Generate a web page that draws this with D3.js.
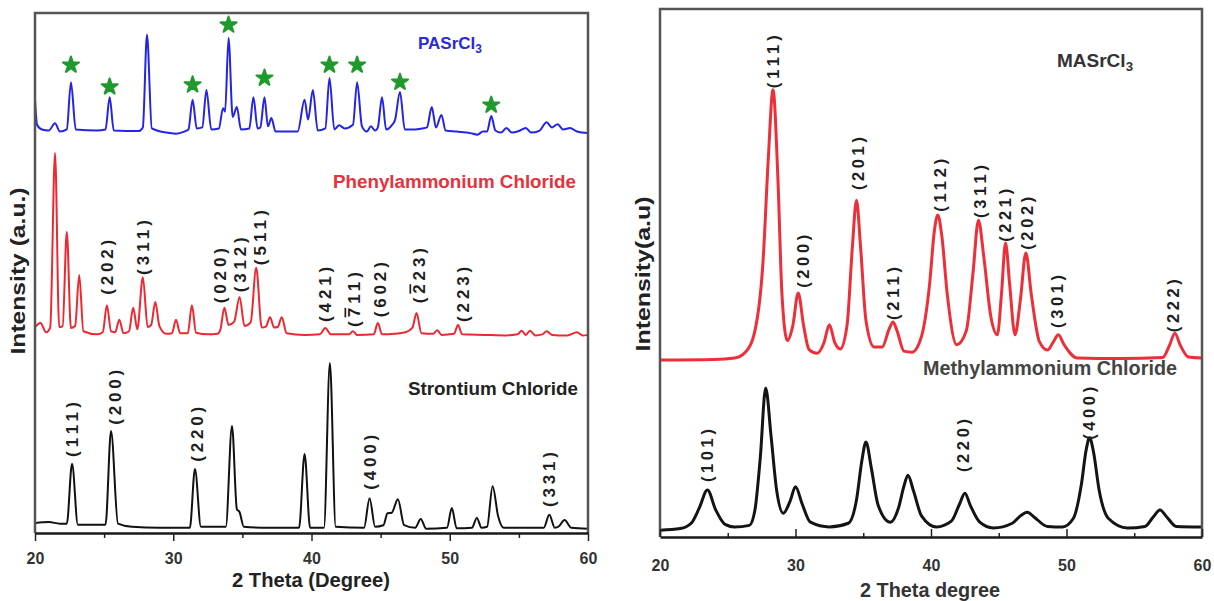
<!DOCTYPE html>
<html>
<head>
<meta charset="utf-8">
<script src="https://cdn.jsdelivr.net/npm/d3@7"></script>
<style>
    body { margin: 0; background: #fff; }
    text { font-family: "Liberation Sans", Arial, sans-serif; font-weight: bold; }
</style>
</head>
<body>
<svg id="chart" width="1214" height="601"></svg>
<script>
// x axis (2 theta, degrees)
var majorTicks = [20, 30, 40, 50, 60];
var minorTicks = [25, 35, 45, 55];

// ---- left panel: PASrCl3 / phenylammonium chloride / SrCl2, [2theta, intensity a.u.]
var pasrcl3 = [
    [20, 83.3], [20.15, 78.5], [20.5, 77.6], [21.0, 77.4], [21.45, 78.8], [21.8, 77.2], [22.3, 77.6],
    [22.6, 86.7], [22.95, 77.6], [24.5, 77.4], [25.1, 77.6], [25.4, 83.8], [25.7, 77.4], [27.5, 77.3],
    [27.8, 78], [28.1, 95.8], [28.45, 77.8], [29.5, 77.0], [30.2, 76.8], [30.8, 77.2], [31.1, 77.6],
    [31.4, 83.3], [31.7, 77.8], [32.1, 78], [32.4, 85.2], [32.75, 77.6], [33.3, 77.8], [33.6, 81.7],
    [33.75, 81], [34.0, 95.2], [34.3, 80], [34.6, 81.9], [34.9, 77.6], [35.5, 77.8], [35.8, 83.8],
    [36.1, 77.8], [36.3, 78], [36.6, 83.8], [36.85, 78.2], [37.1, 79.8], [37.4, 77.2], [39.0, 77.2],
    [39.5, 83.3], [39.75, 79.5], [40.1, 85.2], [40.45, 77.4], [41.0, 77.8], [41.3, 87.5], [41.65, 77.6],
    [42.0, 78.4], [42.4, 77.8], [43.0, 78.5], [43.3, 86.7], [43.65, 78.2], [44.0, 77.2], [44.3, 78.2],
    [44.6, 77.4], [44.8, 78], [45.1, 83.8], [45.4, 77.6], [45.8, 78.4], [46.05, 79.5], [46.4, 84.8],
    [46.75, 77.6], [47.5, 77.6], [48.0, 77.8], [48.35, 78], [48.7, 81.9], [49.0, 78], [49.4, 80.4],
    [49.7, 77.4], [50.5, 77.2], [51.5, 76.9], [52.0, 76.6], [52.4, 77.2], [52.7, 77.2], [53.0, 80.2],
    [53.3, 77.4], [53.7, 77.0], [54.1, 77.9], [54.5, 77.0], [55.0, 77.3], [55.5, 77.9], [55.9, 77.0],
    [56.5, 77.4], [57.0, 79.0], [57.4, 78.0], [57.8, 78.6], [58.2, 77.6], [58.7, 77.9], [59.2, 77.2], [60, 76.9]
];
var phenylammonium = [
    [20, 39.6], [20.4, 40.4], [20.8, 38.6], [21.1, 39.5], [21.45, 73.1], [21.75, 39.6], [22.0, 39.8],
    [22.3, 57.9], [22.6, 39.4], [22.9, 39.8], [23.2, 49.6], [23.5, 38.8], [24.5, 38.2], [24.9, 38.6],
    [25.2, 43.8], [25.5, 38.8], [25.8, 38.6], [26.1, 41.0], [26.4, 38.4], [26.8, 38.8], [27.1, 43.3],
    [27.4, 39.2], [27.8, 49.2], [28.15, 39.6], [28.4, 40], [28.7, 44.4], [29.0, 39.8], [29.5, 38.3],
    [29.9, 38.4], [30.2, 41.0], [30.5, 38.4], [31.05, 38.4], [31.35, 43.8], [31.65, 38.5], [32.5, 38.2],
    [33.2, 38.3], [33.4, 39], [33.7, 43.3], [34.0, 40], [34.4, 40.6], [34.8, 45.4], [35.15, 39.8],
    [35.6, 40.5], [36.0, 51.0], [36.4, 39.5], [36.7, 39.7], [37.0, 41.5], [37.3, 39.5], [37.55, 39.6],
    [37.85, 41.5], [38.2, 38.4], [39.5, 38.1], [40.6, 38.2], [41.0, 39.4], [41.4, 38.2], [42.7, 38.2],
    [43.0, 38.8], [43.3, 38.1], [44.5, 38.2], [44.8, 40.4], [45.1, 38.2], [46.0, 38.3], [46.8, 38.6],
    [47.3, 39.5], [47.6, 42.3], [47.95, 38.4], [48.8, 38.3], [49.1, 39.0], [49.4, 38.1], [50.3, 38.3],
    [50.6, 40.0], [50.9, 38.2], [52.5, 38.1], [54, 38.0], [54.9, 38.2], [55.2, 38.9], [55.5, 38.1],
    [55.8, 38.9], [56.2, 38.0], [56.7, 38.2], [57.0, 38.8], [57.4, 38.1], [58.5, 38.0], [59.2, 38.6],
    [59.6, 38.0], [60, 38.1]
];
var strontium = [
    [20, 1.9], [21, 2.1], [21.8, 1.8], [22.3, 1.8], [22.68, 13.3], [23.1, 1.6], [25.1, 1.6], [25.5, 19.6],
    [26.0, 1.8], [27, 1.2], [29, 1.0], [31.2, 1.0], [31.57, 12.3], [32.0, 1.2], [33.8, 1.2], [34.25, 20.6],
    [34.6, 4.6], [34.8, 4.0], [35.1, 1.2], [37, 1.0], [39.1, 1.0], [39.5, 15.2], [39.9, 1.0], [40.9, 1.0],
    [41.33, 32.7], [41.75, 1.2], [43.8, 1.0], [44.2, 6.7], [44.6, 1.2], [45.2, 1.5], [45.5, 3.8],
    [45.8, 3.9], [46.25, 6.5], [46.7, 1.5], [47.5, 1.0], [47.9, 2.7], [48.3, 0.8], [49.8, 1.0],
    [50.15, 4.8], [50.5, 0.9], [51.6, 1.0], [51.96, 2.9], [52.3, 1.0], [52.7, 1.2], [53.1, 9.0],
    [53.5, 3.2], [53.9, 1.0], [56.8, 1.0], [57.2, 3.5], [57.6, 1.0], [57.9, 1.3], [58.3, 2.5],
    [58.8, 1.0], [60, 0.8]
];
// impurity peaks marked with a star on the PASrCl3 trace
var starPeaks = [[22.6, 90.0], [25.4, 85.8], [31.4, 86.2], [34.0, 97.7], [36.6, 87.5],
    [41.3, 90.0], [43.3, 90.0], [46.4, 86.7], [53.0, 82.3]];
// Miller indices; "-7" means 7 with a bar
var leftLabels = [
    ['(111)', 22.7, 14.6], ['(200)', 25.8, 20.8], ['(220)', 31.7, 13.7], ['(400)', 44.2, 8.3],
    ['(331)', 57.2, 5.0], ['(202)', 25.2, 45.8], ['(311)', 27.8, 49.6], ['(020)', 33.4, 44.2],
    ['(312)', 34.8, 46.3], ['(511)', 36.3, 51.5], ['(421)', 41.0, 40.6], ['(-711)', 43.1, 39.6],
    ['(602)', 44.95, 41.5], ['(-223)', 47.8, 44.2], ['(223)', 50.95, 40.6]
];

// ---- right panel: MASrCl3 / methylammonium chloride
var masrcl3 = [
    [20, 33.5], [24, 33.6], [25.5, 33.9], [26.3, 35], [27.0, 39], [27.6, 52], [28.0, 72], [28.34, 84.7],
    [28.7, 68], [29.0, 46], [29.4, 37.2], [29.8, 40], [30.2, 46.2], [30.6, 40], [31.0, 35.5], [31.6, 34.8],
    [32.1, 36.8], [32.5, 40.2], [32.9, 36.8], [33.3, 35.6], [33.8, 40], [34.2, 55], [34.5, 63.8],
    [34.8, 55], [35.2, 41], [35.8, 36.0], [36.4, 36.0], [36.9, 39.3], [37.2, 40.7], [37.5, 39],
    [38.0, 35.2], [38.6, 35.0], [39.3, 38], [39.9, 48], [40.25, 58], [40.5, 61.0], [40.8, 57],
    [41.2, 46], [41.9, 36.4], [42.6, 39], [43.1, 50], [43.5, 60.0], [43.9, 53], [44.4, 42], [44.9, 38.3],
    [45.2, 46], [45.5, 55.7], [45.8, 48], [46.2, 38.3], [46.6, 45], [47.0, 53.8], [47.4, 46], [48.0, 37],
    [48.6, 35.4], [49.0, 36.8], [49.4, 38.3], [49.8, 36.5], [50.8, 33.9], [54, 33.8], [57.1, 34.0],
    [57.6, 36.3], [58.0, 38.6], [58.4, 36.3], [59.0, 34.1], [60, 33.9]
];
var methylammonium = [
    [20, 1.3], [21.5, 1.6], [22.3, 2.6], [22.9, 5.5], [23.5, 8.9], [24.1, 5.2], [24.8, 2.4], [25.5, 1.9],
    [26.6, 2.2], [27.0, 5], [27.4, 15], [27.8, 28.2], [28.2, 19], [28.6, 9], [29.1, 4.5], [29.6, 6.8],
    [30.0, 9.5], [30.5, 6.2], [31.1, 2.8], [32.5, 1.9], [33.9, 2.6], [34.5, 7], [34.9, 14.5], [35.2, 18.0],
    [35.6, 13], [36.1, 6], [37.0, 2.8], [37.6, 5.5], [38.0, 9.6], [38.3, 11.7], [38.7, 8.8], [39.3, 4],
    [40.4, 1.9], [41.5, 3], [42.1, 6.2], [42.5, 8.3], [42.9, 6], [43.6, 2.8], [44.6, 1.7], [46.0, 2.6],
    [46.6, 4], [47.1, 4.7], [47.6, 3.8], [48.6, 2], [49.7, 1.9], [50.5, 3.5], [51.1, 10], [51.45, 16.5],
    [51.7, 18.8], [52.0, 16], [52.4, 9], [53.1, 3.5], [54.5, 1.7], [55.8, 2], [56.4, 3.8], [56.9, 5.1],
    [57.4, 3.8], [58.1, 2], [60, 1.9]
];
var rightLabels = [
    ['(111)', 28.34, 85.0], ['(200)', 30.55, 47.2], ['(201)', 34.6, 65.7], ['(211)', 37.2, 41.1],
    ['(112)', 40.65, 61.6], ['(311)', 43.6, 60.4], ['(221)', 45.5, 55.9], ['(202)', 47.1, 54.4],
    ['(301)', 49.3, 39.6], ['(222)', 57.9, 38.8], ['(101)', 23.5, 10.4], ['(220)', 42.4, 12.3],
    ['(400)', 51.7, 18.4]
];

var svg = d3.select('#chart');

// split "(-711)" into plain and barred pieces
function hklParts(s) {
    var parts = [];
    for (var i = 0; i < s.length; i++) {
        if (s[i] === '-') {
            parts.push({ t: s[i + 1], bar: true });
            i++;
        } else {
            parts.push({ t: s[i], bar: false });
        }
    }
    return parts;
}

function drawPanel(opts) {
    var x = d3.scaleLinear().domain([20, 60]).range([opts.left, opts.right]);
    var y = d3.scaleLinear().domain([0, 100]).range([opts.bottom, opts.top]);
    var g = svg.append('g');

    var line = d3.line()
        .x(function(d) { return x(d[0]); })
        .y(function(d) { return y(d[1]); })
        .curve(d3.curveMonotoneX);

    opts.series.forEach(function(s) {
        g.append('path')
            .attr('d', line(s.values))
            .attr('fill', 'none')
            .attr('stroke', s.color)
            .attr('stroke-width', s.width)
            .attr('stroke-linejoin', 'round');
    });

    // frame: left, top, right
    g.append('path')
        .attr('d', 'M' + opts.left + ',' + opts.bottom + 'V' + opts.top + 'H' + opts.right + 'V' + opts.bottom)
        .attr('fill', 'none')
        .attr('stroke', '#555')
        .attr('stroke-width', 2.5);

    var dir = opts.inward ? -1 : 1;
    g.append('g')
        .attr('transform', 'translate(0,' + opts.bottom + ')')
        .call(d3.axisBottom(x).tickValues(minorTicks).tickSize(dir * opts.minorLen).tickSizeOuter(0).tickFormat(''))
        .call(function(a) { a.select('.domain').remove(); })
        .selectAll('line').attr('stroke', '#222').attr('stroke-width', 1.5);

    var ax = g.append('g')
        .attr('transform', 'translate(0,' + opts.bottom + ')')
        .call(d3.axisBottom(x).tickValues(majorTicks).tickSize(dir * opts.majorLen).tickSizeOuter(0)
            .tickPadding(opts.pad).tickFormat(d3.format('d')));
    ax.select('.domain').attr('stroke', '#1a1a1a').attr('stroke-width', 2.5);
    ax.selectAll('line').attr('stroke', '#222').attr('stroke-width', 1.5);
    ax.selectAll('text')
        .attr('fill', '#333')
        .style('font-size', opts.tickFont + 'px')
        .style('font-family', '"Liberation Sans", Arial, sans-serif')
        .style('font-weight', 'bold');

    var hkl = g.selectAll('text.hkl')
        .data(opts.labels)
      .enter().append('text')
        .attr('class', 'hkl')
        .attr('transform', function(d) { return 'translate(' + x(d[1]) + ',' + y(d[2]) + ') rotate(-90)'; })
        .attr('dy', '0.36em')
        .attr('textLength', opts.labelLen)
        .attr('lengthAdjust', 'spacing')
        .attr('fill', '#1e1e1e')
        .style('font-size', opts.labelFont + 'px');
    hkl.selectAll('tspan')
        .data(function(d) { return hklParts(d[0]); })
      .enter().append('tspan')
        .style('text-decoration', function(p) { return p.bar ? 'overline' : null; })
        .text(function(p) { return p.t; });

    return { x: x, y: y, g: g };
}

var left = drawPanel({
    left: 35, right: 588, top: 13, bottom: 533,
    inward: false, majorLen: 8, minorLen: 5, pad: 12, tickFont: 16,
    labelLen: 55, labelFont: 17,
    labels: leftLabels,
    series: [
        { values: pasrcl3, color: '#2424e6', width: 2 },
        { values: phenylammonium, color: '#ee2830', width: 2 },
        { values: strontium, color: '#111', width: 2 }
    ]
});

var right = drawPanel({
    left: 660, right: 1202, top: 9, bottom: 537,
    inward: true, majorLen: 8, minorLen: 4, pad: 23, tickFont: 16,
    labelLen: 53, labelFont: 16.5,
    labels: rightLabels,
    series: [
        { values: masrcl3, color: '#ec2f38', width: 3 },
        { values: methylammonium, color: '#141414', width: 3 }
    ]
});

// stars over the PASrCl3 peaks
left.g.selectAll('path.star')
    .data(starPeaks)
  .enter().append('path')
    .attr('class', 'star')
    .attr('transform', function(d) { return 'translate(' + left.x(d[0]) + ',' + left.y(d[1]) + ')'; })
    .attr('d', d3.symbol().type(d3.symbolStar).size(80))
    .attr('fill', '#1f9a2c')
    .attr('stroke', '#1f9a2c')
    .attr('stroke-width', 2)
    .attr('stroke-linejoin', 'round');

function addText(g, x, y, str, opts) {
    var t = g.append('text')
        .attr('x', x).attr('y', y)
        .attr('text-anchor', opts.anchor || 'start')
        .attr('dy', '0.35em')
        .attr('fill', opts.color)
        .style('font-size', opts.size + 'px');
    if (opts.rotate) t.attr('transform', 'rotate(-90,' + x + ',' + y + ')');
    if (opts.len) t.attr('textLength', opts.len).attr('lengthAdjust', 'spacingAndGlyphs');
    t.append('tspan').text(str);
    if (opts.sub) {
        t.append('tspan').attr('dy', '0.35em').style('font-size', (opts.size * 0.7) + 'px').text(opts.sub);
    }
    return t;
}

// left panel texts
addText(left.g, 418, 43, 'PASrCl', { color: '#2a2ad6', size: 17, sub: '3' });
addText(left.g, 333, 182, 'Phenylammonium Chloride', { color: '#e5323b', size: 18, len: 243 });
addText(left.g, 408, 389, 'Strontium Chloride', { color: '#222', size: 18, len: 170 });
addText(left.g, 311, 580, '2 Theta (Degree)', { color: '#222', size: 20, anchor: 'middle', len: 158 });
addText(left.g, 18, 271, 'Intensity (a.u.)', { color: '#222', size: 20, anchor: 'middle', rotate: true, len: 167 });

// right panel texts
addText(right.g, 1057, 60, 'MASrCl', { color: '#333', size: 19, sub: '3' });
addText(right.g, 923, 368, 'Methylammonium Chloride', { color: '#444', size: 19.5, len: 254 });
addText(right.g, 930, 590, '2 Theta degree', { color: '#333', size: 20, anchor: 'middle', len: 140 });
addText(right.g, 643, 274, 'Intensity(a.u)', { color: '#222', size: 20, anchor: 'middle', rotate: true, len: 155 });
</script>
</body>
</html>
